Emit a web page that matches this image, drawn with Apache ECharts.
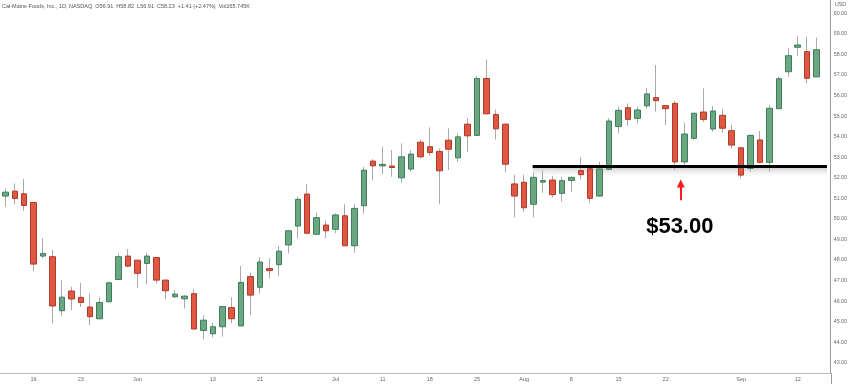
<!DOCTYPE html>
<html><head><meta charset="utf-8">
<script src="https://cdn.jsdelivr.net/npm/echarts@6/dist/echarts.min.js"></script>
<style>html,body{margin:0;padding:0;background:#fff}#c{width:850px;height:384px}</style>
</head><body><div id="c"></div>
<script>
const dates = ['05-11','05-12','05-13','05-16','05-17','05-18','05-19','05-20','05-23','05-24','05-25','05-26','05-27','05-31','06-01','06-02','06-03','06-06','06-07','06-08','06-09','06-10','06-13','06-14','06-15','06-16','06-17','06-21','06-22','06-23','06-24','06-27','06-28','06-29','06-30','07-01','07-05','07-06','07-07','07-08','07-11','07-12','07-13','07-14','07-15','07-18','07-19','07-20','07-21','07-22','07-25','07-26','07-27','07-28','07-29','08-01','08-02','08-03','08-04','08-05','08-08','08-09','08-10','08-11','08-12','08-15','08-16','08-17','08-18','08-19','08-22','08-23','08-24','08-25','08-26','08-29','08-30','08-31','09-01','09-02','09-06','09-07','09-08','09-09','09-12','09-13','09-14'];
const opens  = [51.11,51.35,51.22,50.80,48.19,48.16,45.53,46.49,46.18,45.71,45.14,45.97,47.05,48.19,47.99,47.83,48.12,47.02,46.21,46.11,46.36,44.57,44.41,44.75,45.68,44.79,47.19,46.67,47.58,47.77,48.73,49.65,51.21,49.25,49.70,49.49,50.15,48.69,50.64,52.81,52.58,52.57,52.00,52.42,53.73,53.51,53.28,53.83,52.97,54.61,54.06,56.83,55.08,54.61,51.70,51.78,50.71,51.79,51.89,51.24,51.87,52.35,52.44,51.11,52.41,54.49,55.41,54.89,55.50,55.90,55.51,55.62,52.77,53.92,55.20,54.37,55.04,54.29,53.46,52.46,53.84,52.75,55.36,57.16,58.35,58.14,56.91];
const closes = [51.30,50.99,50.65,47.80,48.32,45.76,46.19,46.10,45.93,45.24,45.93,46.89,48.16,47.70,47.35,48.19,47.02,46.50,46.34,46.24,44.64,45.07,44.75,45.73,45.14,46.91,46.29,47.90,47.48,48.43,49.42,50.95,49.30,50.06,49.42,50.19,48.69,50.51,52.37,52.58,52.65,52.50,53.02,53.15,53.02,53.23,52.34,53.39,53.99,54.04,56.83,55.11,54.38,52.66,51.11,50.54,52.02,51.86,51.18,51.86,52.02,52.15,51.00,52.43,54.76,55.28,54.84,55.30,56.08,55.75,55.36,52.77,54.13,55.14,54.84,55.25,54.41,53.59,52.13,54.06,52.75,55.38,56.82,57.94,58.46,56.84,58.23];
const lows   = [50.59,50.70,50.39,47.47,48.08,44.91,45.27,45.56,45.72,44.83,45.11,45.92,47.02,47.64,46.65,46.81,46.86,46.10,46.13,45.64,44.62,44.13,44.23,44.27,44.92,44.77,45.32,46.37,47.10,47.22,48.32,49.05,49.29,49.24,49.05,49.30,48.68,48.35,50.26,51.88,52.18,52.05,51.75,52.29,52.94,53.08,50.72,52.37,52.78,53.26,54.05,55.10,53.86,52.26,50.07,50.34,50.07,51.27,51.05,50.84,51.32,51.92,50.79,51.10,52.40,54.16,54.53,54.65,55.36,55.22,54.57,52.38,52.54,53.84,54.71,54.24,54.19,53.43,51.97,52.30,52.70,52.30,55.35,56.92,57.93,56.60,56.91];
const highs  = [51.48,51.72,51.94,50.82,49.05,48.48,47.02,46.70,46.89,46.37,46.18,46.94,48.32,48.53,48.00,48.35,48.13,47.03,46.53,46.29,46.58,45.30,44.94,45.76,46.18,47.71,47.38,48.13,48.08,48.68,49.45,51.08,51.70,50.30,49.91,50.27,50.72,50.72,52.53,52.91,53.51,53.34,53.67,53.34,53.86,54.45,53.43,54.40,54.16,54.89,56.95,57.76,55.32,54.62,52.15,52.15,52.25,52.35,52.10,52.05,52.05,52.99,52.54,52.78,54.89,55.46,55.62,55.46,56.35,57.49,55.52,55.74,54.68,55.15,56.35,55.49,55.33,54.57,53.47,54.11,54.28,55.54,56.92,58.30,58.90,58.87,58.82];
const tickLabels = {'05-16':'16','05-23':'23','06-01':'Jun','06-13':'13','06-21':'21','07-01':'Jul','07-11':'11','07-18':'18','07-25':'25','08-01':'Aug','08-08':'8','08-15':'15','08-22':'22','09-01':'Sep','09-12':'12'};
const headerText = 'Cal-Maine Foods, Inc., 1D, NASDAQ  O56.91  H58.82  L56.91  C58.23  +1.41 (+2.47%)  Vol265.745K';
const levelPrice = 52.57, levelFrom = 55.9, levelTo = 87.1, shadowBottom = 52.05;
const arrowX = 71.6, arrowFrom = 50.90, arrowTo = 51.72;
const noteText = '$53.00', noteX = 71.5, noteY = 49.6;

const cats = dates.concat(['']);
const FONT = "'Liberation Sans', Arial, sans-serif";
const chart = echarts.init(document.getElementById('c'), null, {renderer: 'canvas'});
chart.setOption({
  animation: false,
  backgroundColor: '#ffffff',
  grid: {left: 0.6, right: 18.7, top: 0, bottom: 11},
  xAxis: [{
    type: 'category', data: cats, boundaryGap: true,
    axisLine: {show: true, onZero: false, lineStyle: {color: '#b8b8b8', width: 1}},
    axisTick: {show: false},
    splitLine: {show: false},
    axisLabel: {interval: 0, hideOverlap: false, color: '#666', fontSize: 5.5, fontFamily: FONT, margin: 3,
      formatter: v => tickLabels[v] || ''}
  }, {
    type: 'value', min: -0.5, max: 87.5, show: false
  }],
  yAxis: {
    type: 'value', position: 'right', min: 42.5, max: 60.65, interval: 0.5, scale: true,
    axisLine: {show: true, onZero: false, lineStyle: {color: '#9a9a9a', width: 1}},
    axisTick: {show: false}, splitLine: {show: false},
    axisLabel: {color: '#666', fontSize: 5.3, fontFamily: FONT, margin: 3, showMinLabel: true, showMaxLabel: true,
      formatter: v => Math.abs(v - Math.round(v)) < 1e-6 ? v.toFixed(2) : ''}
  },
  series: [{
    type: 'candlestick', name: 'wicks', xAxisIndex: 0, barWidth: 1,
    data: dates.map((d, i) => [opens[i], closes[i], lows[i], highs[i]]),
    itemStyle: {color: '#a9a9a9', color0: '#a9a9a9', borderColor: '#a9a9a9', borderColor0: '#a9a9a9', borderWidth: 1},
    silent: true
  }, {
    type: 'candlestick', name: 'bodies', xAxisIndex: 0, barWidth: 6,
    data: dates.map((d, i) => [opens[i], closes[i], Math.min(opens[i], closes[i]), Math.max(opens[i], closes[i])]),
    itemStyle: {color: '#6aa884', color0: '#e05843', borderColor: '#3f7d59', borderColor0: '#b03a28', borderWidth: 1},
    silent: true
  }, {
    type: 'scatter', xAxisIndex: 1, data: [], silent: true,
    markArea: {silent: true, data: [[
      {coord: [levelFrom, levelPrice], itemStyle: {color: new echarts.graphic.LinearGradient(0,0,0,1,[{offset:0,color:'rgba(150,150,150,0.6)'},{offset:1,color:'rgba(220,220,220,0)'}])}},
      {coord: [levelTo, shadowBottom]}
    ]]},
    markLine: {silent: true, symbol: ['none','none'], label: {show: false}, animation: false,
      data: [
        [{coord: [levelFrom, levelPrice], lineStyle: {color: '#000', width: 3, type: 'solid'}}, {coord: [levelTo, levelPrice]}],
        [{coord: [arrowX, arrowFrom], symbol: 'none', lineStyle: {color: '#ff1a1a', width: 2, type: 'solid'}}, {coord: [arrowX, arrowTo], symbol: 'triangle', symbolSize: [8, 8]}]
      ]},
    markPoint: {silent: true, symbol: 'rect', symbolSize: 0,
      data: [{coord: [noteX, noteY], label: {show: true, position: 'inside', formatter: noteText, color: '#000', fontSize: 22, fontWeight: 'bold', fontFamily: FONT}}]}
  }],
  graphic: [
    {type: 'text', left: 2, top: 3, style: {text: headerText, fill: '#555', font: '5.5px ' + FONT}},
    {type: 'text', left: 835, top: 2, style: {text: 'USD', fill: '#666', font: '5.3px ' + FONT}},
    {type: 'line', shape: {x1: 831.5, y1: 373, x2: 831.5, y2: 384}, style: {stroke: '#9a9a9a', lineWidth: 1}}
  ]
});
</script></body></html>
